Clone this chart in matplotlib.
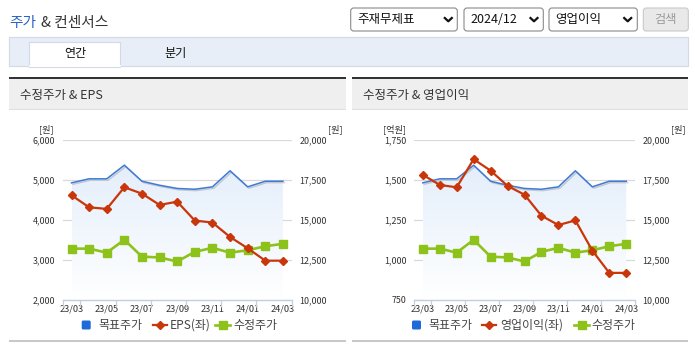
import numpy as np
import matplotlib
matplotlib.use('Agg')
import matplotlib.pyplot as plt
from matplotlib.patches import Rectangle, FancyBboxPatch
from matplotlib.colors import LinearSegmentedColormap
import matplotlib.patheffects as pe

plt.rcParams['font.family'] = ['Noto Sans CJK KR', 'DejaVu Sans']

# data
months = ['23/03', '23/04', '23/05', '23/06', '23/07', '23/08', '23/09',
          '23/10', '23/11', '23/12', '24/01', '24/02', '24/03']
target_price = [17300, 17550, 17550, 18400, 17400, 17150, 16950, 16900, 17050, 18050, 17050, 17400, 17400]
adj_price = [13200, 13200, 12950, 13750, 12700, 12650, 12400, 13000, 13250, 12950, 13100, 13350, 13500]
eps = [4610, 4310, 4270, 4810, 4650, 4370, 4450, 3980, 3930, 3570, 3290, 2980, 2980]
op_income = [1530, 1467, 1452, 1627, 1556, 1461, 1406, 1275, 1217, 1246, 1058, 919, 919]

right_ticks = [10000, 12500, 15000, 17500, 20000]
eps_ticks = [2000, 3000, 4000, 5000, 6000]
op_ticks = [750, 1000, 1250, 1500, 1750]

BLUE = '#3f7ad6'
RED = '#c8360a'
GREEN = '#8cc21a'
TXT = '#333333'

W, H = 695, 349
fig = plt.figure(figsize=(W / 100, H / 100), dpi=100)

# background axes in pixel coords
bg = fig.add_axes([0, 0, 1, 1])
bg.set_xlim(0, W)
bg.set_ylim(H, 0)
bg.axis('off')


def box(x0, y0, x1, y1, **kw):
    bg.add_patch(Rectangle((x0, y0), x1 - x0, y1 - y0, **kw))


def px_axes(x0, y0, x1, y1):
    return fig.add_axes([x0 / W, 1 - y1 / H, (x1 - x0) / W, (y1 - y0) / H])


# title
bg.text(9.3, 22.5, '주가', color='#2c62c8', fontsize=10.6, va='center')
bg.text(41, 22.5, '& 컨센서스', color=TXT, fontsize=10.6, va='center')

# dropdowns
def dropdown(x0, x1, label, chev):
    bg.add_patch(FancyBboxPatch((x0, 8), x1 - x0, 23, boxstyle='round,pad=0,rounding_size=3',
                                fc='white', ec='#8a8a8a', lw=0.8))
    bg.text(x0 + 6.5, 19.8, label, fontsize=9, color='#111', va='center')
    bg.plot([chev - 3.5, chev, chev + 3.5], [18, 21.3, 18], color='#111', lw=1.6)


dropdown(350.7, 457.3, '주재무제표', 448.3)
dropdown(464, 543.3, '2024/12', 534)
dropdown(549, 637.3, '영업이익', 627.7)
bg.add_patch(FancyBboxPatch((643.3, 8), 45, 23, boxstyle='round,pad=0,rounding_size=3',
                            fc='#e9e9e9', ec='#c9c9c9', lw=0.8))
bg.text(666, 19.8, '검색', fontsize=8.8, color='#9a9a9a', va='center', ha='center')

# tab band
box(9, 37.3, 688.3, 66, fc='#e8eef8', ec='#d3dae6', lw=0.8)
box(29.3, 42, 120.3, 66.5, fc='white', ec='#d3dae6', lw=0.8)
bg.plot([29.8, 119.8], [66, 66], color='white', lw=1.2)
bg.text(75, 53, '연간', fontsize=8.7, color='#111', ha='center', va='center')
bg.text(175.7, 53, '분기', fontsize=8.7, color='#111', ha='center', va='center')

# panels
for px0, px1, name in [(9, 345.7, '수정주가 & EPS'), (352, 688.3, '수정주가 & 영업이익')]:
    box(px0, 76.7, px1, 78.8, fc='#333333', ec='none')
    box(px0, 78.8, px1, 109, fc='#efefef', ec='none')
    box(px0, 109, px1, 110, fc='#dedede', ec='none')
    box(px0, 339.8, px1, 341.8, fc='#c8c8c8', ec='none')
    bg.text(px0 + 11, 95, name, fontsize=9, color=TXT, va='center')

grad_cmap = LinearSegmentedColormap.from_list('g', ['#ffffff', '#e3eefb'])


def draw_chart(x0, x1, left_vals, left_ticks):
    ax = px_axes(x0, 139.5, x1, 300)
    ax.set_facecolor('none')
    idx = np.arange(len(months))
    ax2 = ax.twinx()
    ax.yaxis.tick_right()
    ax2.yaxis.tick_left()

    # target price area with vertical gradient
    poly = ax.fill_between(idx, target_price, right_ticks[0], color='none', lw=0)
    im = ax.imshow(np.linspace(0, 1, 100).reshape(-1, 1), cmap=grad_cmap, aspect='auto',
                   origin='lower', extent=[0, len(months) - 1, right_ticks[0], 18600], zorder=1)
    im.set_clip_path(poly.get_paths()[0], transform=ax.transData)
    ax.plot(idx, target_price, color=BLUE, lw=1.1, zorder=3,
            path_effects=[pe.SimpleLineShadow(offset=(1, -1), shadow_color='#808080', alpha=0.35),
                          pe.Normal()])
    ax.plot(idx, adj_price, color=GREEN, lw=1.9, marker='s', ms=5.6, zorder=4)
    ax2.plot(idx, left_vals, color=RED, lw=1.6, marker='D', ms=4.2, zorder=5)

    ax.set_xlim(-0.5, len(months) - 0.5)
    ax.set_ylim(right_ticks[0], right_ticks[-1])
    ax2.set_ylim(left_ticks[0], left_ticks[-1])

    ax.set_yticks(right_ticks)
    ax.set_yticklabels([f'{v:,}' for v in right_ticks])
    ax2.set_yticks(left_ticks)
    ax2.set_yticklabels([f'{v:,}' for v in left_ticks])
    ax.tick_params(axis='y', length=0, pad=5.5, labelsize=6.4, labelcolor=TXT)
    ax2.tick_params(axis='y', length=0, pad=5.5, labelsize=6.4, labelcolor=TXT)
    ax.yaxis.grid(True, color='#d9d9d9', lw=0.9, zorder=0)
    ax.set_axisbelow(True)

    ax.set_xticks(idx[::2])
    ax.set_xticklabels(months[::2])
    ax.tick_params(axis='x', which='major', length=0, pad=3.5, labelsize=6.6, labelcolor=TXT)
    ax.set_xticks([-0.5] + list(np.arange(0.5, len(months) - 1, 2)) + [len(months) - 0.5], minor=True)
    ax.tick_params(axis='x', which='minor', length=5, width=0.9, color='#c0d0e0', direction='out')

    for a in (ax, ax2):
        for s in a.spines.values():
            s.set_visible(False)
    ax.spines['bottom'].set_visible(True)
    ax.spines['bottom'].set_color('#c0d0e0')
    ax.spines['bottom'].set_linewidth(1.0)
    return ax


draw_chart(62.7, 291.7, eps, eps_ticks)
draw_chart(414.3, 634.7, op_income, op_ticks)

# unit labels
for x, t in [(46, '[원]'), (335, '[원]'), (394, '[억원]'), (678.5, '[원]')]:
    bg.text(x, 129.5, t, fontsize=6.6, color=TXT, ha='center', va='center')


# legends
def legend(xs, second):
    bx, tx1, rx, tx2, gx, tx3 = xs
    bg.add_patch(FancyBboxPatch((bx, 320.5), 9, 9, boxstyle='round,pad=0,rounding_size=1.5',
                                fc='#1f6ad8', ec='none'))
    bg.text(tx1, 325, '목표주가', fontsize=8.6, color='#444', va='center')
    bg.plot([rx - 7, rx + 7], [325, 325], color=RED, lw=1.6)
    bg.plot([rx], [325], color=RED, marker='D', ms=4.2)
    bg.text(tx2, 325, second, fontsize=8.6, color='#444', va='center')
    bg.plot([gx - 7.5, gx + 7.5], [325, 325], color=GREEN, lw=1.9)
    bg.plot([gx], [325], color=GREEN, marker='s', ms=5.6)
    bg.text(tx3, 325, '수정주가', fontsize=8.6, color='#444', va='center')


legend((81.7, 98.5, 160, 170, 222.5, 233), 'EPS(좌)')
legend((412, 428, 489.3, 500, 581.5, 591.7), '영업이익(좌)')

fig.savefig('out.png', dpi=100)
